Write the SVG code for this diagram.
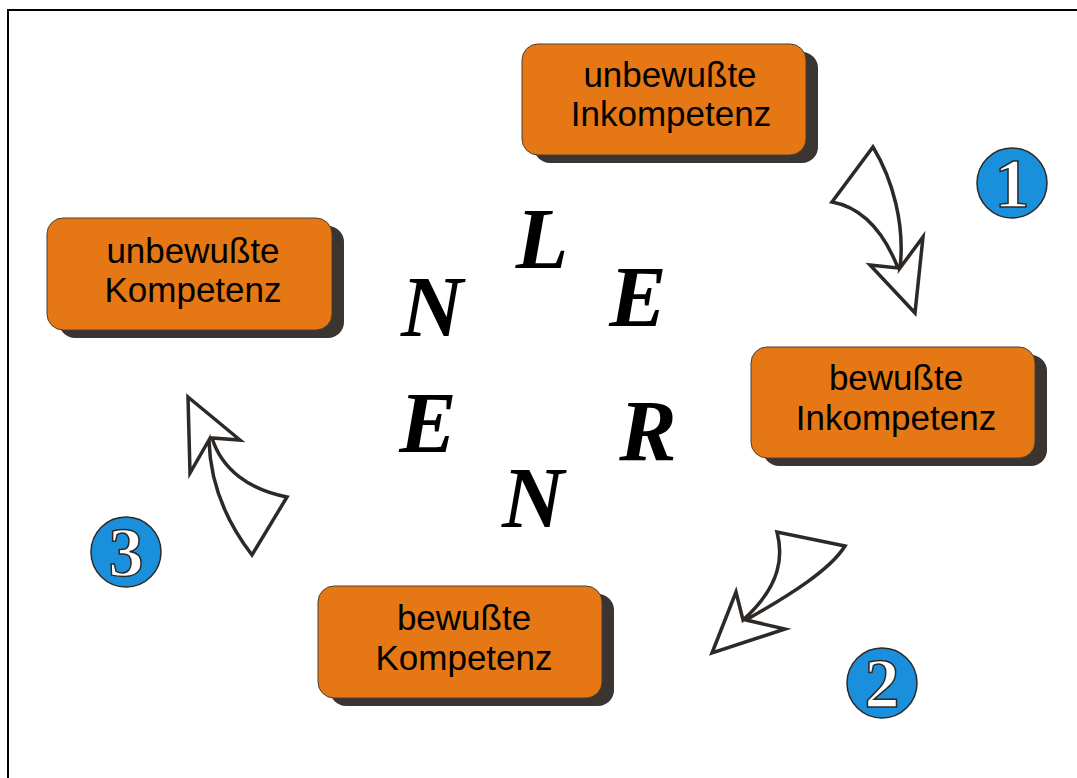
<svg xmlns="http://www.w3.org/2000/svg" width="1077" height="778" viewBox="0 0 1077 778">
<style>
.box{fill:#e57815;stroke:#4a3f36;stroke-width:1}
.shadow{fill:#3a3531}
.lbl{font-family:"Liberation Sans",Arial,sans-serif;font-size:35px;fill:#000;text-anchor:middle}
.scr{font-family:"Liberation Serif","DejaVu Serif",serif;font-style:italic;font-weight:bold;font-size:86px;fill:#000;text-anchor:middle}
.arr{fill:#fff;stroke:#2d2926;stroke-width:3.5;stroke-linejoin:miter}
.badge{fill:#1a8fdb;stroke:#2d2926;stroke-width:1.5}
.num{font-family:"Liberation Serif","DejaVu Serif",serif;font-weight:bold;font-size:70px;fill:#fff;stroke:#2d2926;stroke-width:1.5;text-anchor:middle}
</style>
<rect width="1077" height="778" fill="#fff"/>
<path d="M8,778 V10 H1077" fill="none" stroke="#000" stroke-width="2"/>

<g id="node-unbewusste-inkompetenz">
<rect class="shadow" x="534" y="52" width="284" height="111" rx="16"/>
<rect class="box" x="522" y="44" width="284" height="111" rx="16"/>
<text class="lbl" x="670" y="87">unbewußte</text>
<text class="lbl" x="671" y="126">Inkompetenz</text>
</g>

<g id="node-unbewusste-kompetenz">
<rect class="shadow" x="59" y="226" width="285" height="112" rx="16"/>
<rect class="box" x="47" y="218" width="285" height="112" rx="16"/>
<text class="lbl" x="193" y="263">unbewußte</text>
<text class="lbl" x="193" y="302">Kompetenz</text>
</g>

<g id="node-bewusste-inkompetenz">
<rect class="shadow" x="763" y="355" width="284" height="111" rx="16"/>
<rect class="box" x="751" y="347" width="284" height="111" rx="16"/>
<text class="lbl" x="896" y="390">bewußte</text>
<text class="lbl" x="896" y="430">Inkompetenz</text>
</g>

<g id="node-bewusste-kompetenz">
<rect class="shadow" x="330" y="594" width="284" height="112" rx="16"/>
<rect class="box" x="318" y="586" width="284" height="112" rx="16"/>
<text class="lbl" x="464" y="630">bewußte</text>
<text class="lbl" x="464" y="670">Kompetenz</text>
</g>

<g id="connectors">
<path class="arr" d="M873,147 C893,180 905,225 900,268 L923,237 L915,313 L870,265 L898,268 C885,235 865,208 832,202 Z"/>
<path class="arr" d="M777,532 C783,555 782,585 743,620 L736,592 L712,653 L785,629 L746,620 C790,595 830,570 845,546 Z"/>
<path class="arr" d="M188,397 L240,440 L212,438 C222,470 250,490 287,497 L252,555 C225,520 210,480 209,440 L190,473 Z"/>
</g>

<g id="badge-1">
<circle class="badge" cx="1012" cy="183" r="35"/>
<text class="num" x="1012" y="207">1</text>
</g>
<g id="badge-2">
<circle class="badge" cx="882" cy="683" r="35"/>
<text class="num" x="882" y="707">2</text>
</g>
<g id="badge-3">
<circle class="badge" cx="126" cy="552" r="35"/>
<text class="num" x="126" y="576">3</text>
</g>

<g id="lernen">
<text class="scr" x="542" y="268">L</text>
<text class="scr" x="638" y="326">E</text>
<text class="scr" x="432" y="336">N</text>
<text class="scr" x="428" y="452">E</text>
<text class="scr" x="648" y="460">R</text>
<text class="scr" x="533" y="527">N</text>
</g>
</svg>
